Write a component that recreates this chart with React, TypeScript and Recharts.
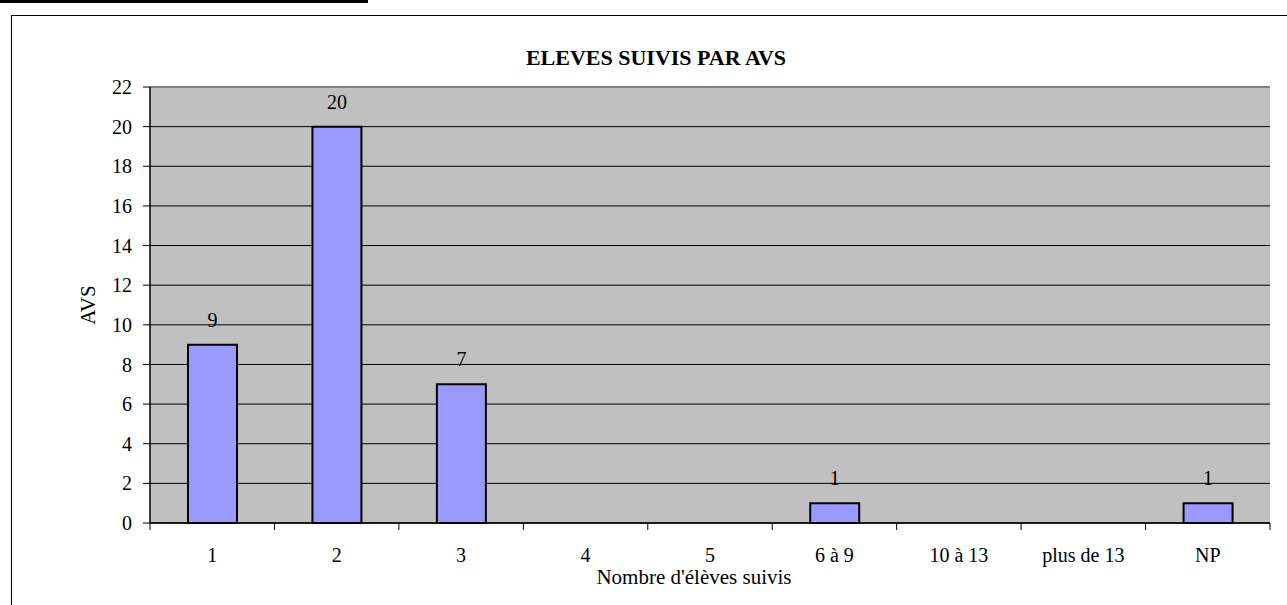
import React from "react";
import {
  BarChart,
  Bar,
  XAxis,
  YAxis,
  CartesianGrid,
  ReferenceLine,
  LabelList,
} from "recharts";

// categories (nombre d'élèves suivis) and number of AVS per category
const categories = ["1", "2", "3", "4", "5", "6 à 9", "10 à 13", "plus de 13", "NP"];
const avsValues = [9, 20, 7, null, null, 1, null, null, 1];
const yTicks = [0, 2, 4, 6, 8, 10, 12, 14, 16, 18, 20, 22];

const data = categories.map((cat, i) => ({ cat, avs: avsValues[i] }));

const FONT = "'Liberation Serif', 'Times New Roman', serif";

// category tick: label in the middle, tick marks on the band boundaries
const CategoryTick = (props: any) => {
  const { x, y, payload, index, visibleTicksCount } = props;
  const half = payload.offset || 0;
  const top = y - 25; // axis line position (tickSize + tickMargin above the text)
  const isLast = index === visibleTicksCount - 1;
  return (
    <g>
      <line x1={x - half} x2={x - half} y1={top} y2={top + 7} stroke="#000" />
      {isLast && <line x1={x + half} x2={x + half} y1={top} y2={top + 7} stroke="#000" />}
      <text
        x={x}
        y={y}
        dy="0.71em"
        textAnchor="middle"
        fill="#000"
        fontSize={20}
        fontFamily={FONT}
      >
        {payload.value}
      </text>
    </g>
  );
};

const App = () => {
  return (
    <div
      style={{
        position: "absolute",
        left: 0,
        top: 0,
        width: 1287,
        height: 605,
        overflow: "hidden",
        background: "#fff",
        fontFamily: FONT,
      }}
    >
      {/* thick rule at the top of the page */}
      <div
        style={{ position: "absolute", left: 0, top: 0, width: 368, height: 3, background: "#000" }}
      />
      {/* chart frame */}
      <div
        style={{
          position: "absolute",
          left: 11,
          top: 15,
          width: 1300,
          height: 620,
          borderLeft: "1.5px solid #000",
          borderTop: "1.5px solid #000",
        }}
      />
      <div
        style={{
          position: "absolute",
          left: 456,
          top: 47,
          width: 400,
          textAlign: "center",
          fontSize: 22,
          fontWeight: "bold",
          lineHeight: "22px",
          color: "#000",
        }}
      >
        ELEVES SUIVIS PAR AVS
      </div>
      <div style={{ position: "absolute", left: 0, top: 0 }}>
        <BarChart
          width={1287}
          height={605}
          data={data}
          margin={{ top: 87, right: 17, left: 0, bottom: 0 }}
          style={{ fontFamily: FONT }}
        >
          <CartesianGrid
            vertical={false}
            stroke="#000"
            strokeWidth={1}
            fill="#C0C0C0"
            fillOpacity={1}
            yAxisId="left"
          />
          <XAxis
            dataKey="cat"
            height={82}
            tickLine={false}
            axisLine={{ stroke: "#000", strokeWidth: 1.5 }}
            tickSize={6}
            tickMargin={19}
            tick={<CategoryTick />}
            interval={0}
            label={{
              value: "Nombre d'élèves suivis",
              position: "insideTop",
              offset: 46,
              dx: -16,
              fill: "#000",
              fontSize: 21,
              fontFamily: FONT,
            }}
          />
          <YAxis
            yAxisId="left"
            width={150}
            domain={[0, 22]}
            ticks={yTicks}
            interval={0}
            tickSize={7}
            tickMargin={11}
            tick={{ fill: "#000", fontSize: 20, fontFamily: FONT }}
            tickLine={{ stroke: "#000" }}
            axisLine={{ stroke: "#000", strokeWidth: 1.5 }}
            label={{
              value: "AVS",
              angle: -90,
              position: "center",
              dx: 13,
              fill: "#000",
              fontSize: 21,
              fontFamily: FONT,
            }}
          />
          <YAxis
            yAxisId="right"
            orientation="right"
            width={0}
            domain={[0, 22]}
            tick={false}
            tickLine={false}
            axisLine={{ stroke: "#808080", strokeWidth: 2 }}
          />
          <ReferenceLine yAxisId="left" y={22} stroke="#808080" strokeWidth={2} />
          <Bar
            dataKey="avs"
            yAxisId="left"
            fill="#9999FF"
            stroke="#000"
            strokeWidth={2}
            barSize={49}
            isAnimationActive={false}
          >
            <LabelList
              dataKey="avs"
              position="top"
              offset={18}
              fill="#000"
              fontSize={20}
              fontFamily={FONT}
            />
          </Bar>
        </BarChart>
      </div>
    </div>
  );
};

export default App;
